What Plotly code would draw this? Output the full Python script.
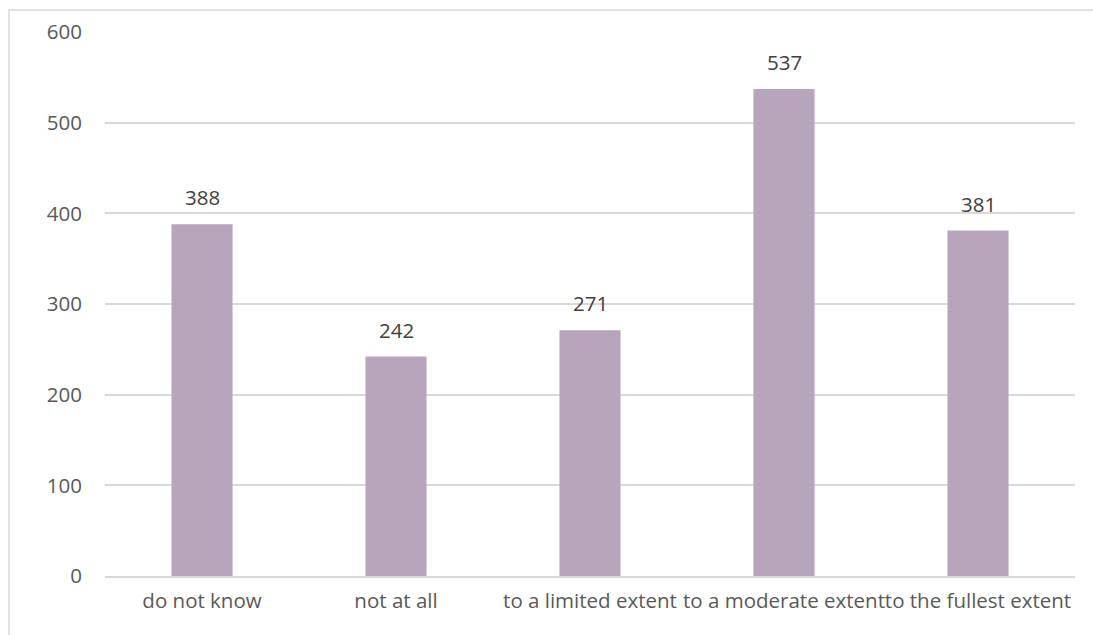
import plotly.graph_objects as go

categories = ["do not know", "not at all", "to a limited extent",
              "to a moderate extent", "to the fullest extent"]
counts = [388, 242, 271, 537, 381]
y_ticks = [0, 100, 200, 300, 400, 500, 600]

W, H = 1093, 635
L, R, T, B = 105, 18, 32, 59
pw, ph = W - L - R, H - T - B
FONT = "Open Sans"
FS = 20.5

fig = go.Figure(go.Bar(
    x=categories, y=counts,
    marker=dict(color="#B7A5BC", line=dict(width=0)),
))

# value labels above each bar
for c, v in zip(categories, counts):
    fig.add_annotation(x=c, y=v, text=str(v), showarrow=False,
                       yanchor="bottom", yshift=11,
                       font=dict(family=FONT, size=FS, color="#404040"))

# light frame around the chart area
fig.add_shape(type="rect", xref="paper", yref="paper",
              x0=(9 - L) / pw, x1=(W + 20 - L) / pw,
              y0=-(H + 20 - (T + ph)) / ph, y1=1 + (T - 10) / ph,
              line=dict(color="#D9D9D9", width=1.5), layer="below")

fig.update_layout(
    width=W, height=H,
    margin=dict(l=L, r=R, t=T, b=B),
    paper_bgcolor="white", plot_bgcolor="white",
    bargap=0.685, showlegend=False,
    font=dict(family=FONT, size=FS, color="#595959"),
    xaxis=dict(showgrid=False, showline=True, linecolor="#D9D9D9", linewidth=1.5,
               ticks="", tickangle=0, ticklabelstandoff=6,
               tickfont=dict(size=FS, color="#595959")),
    yaxis=dict(range=[0, 600], tickvals=y_ticks, showgrid=True,
               gridcolor="#D9D9D9", gridwidth=1.5, zeroline=False,
               showline=False, ticks="", ticklabelstandoff=22,
               tickfont=dict(size=FS, color="#595959")),
)

fig.write_html("out.html")
